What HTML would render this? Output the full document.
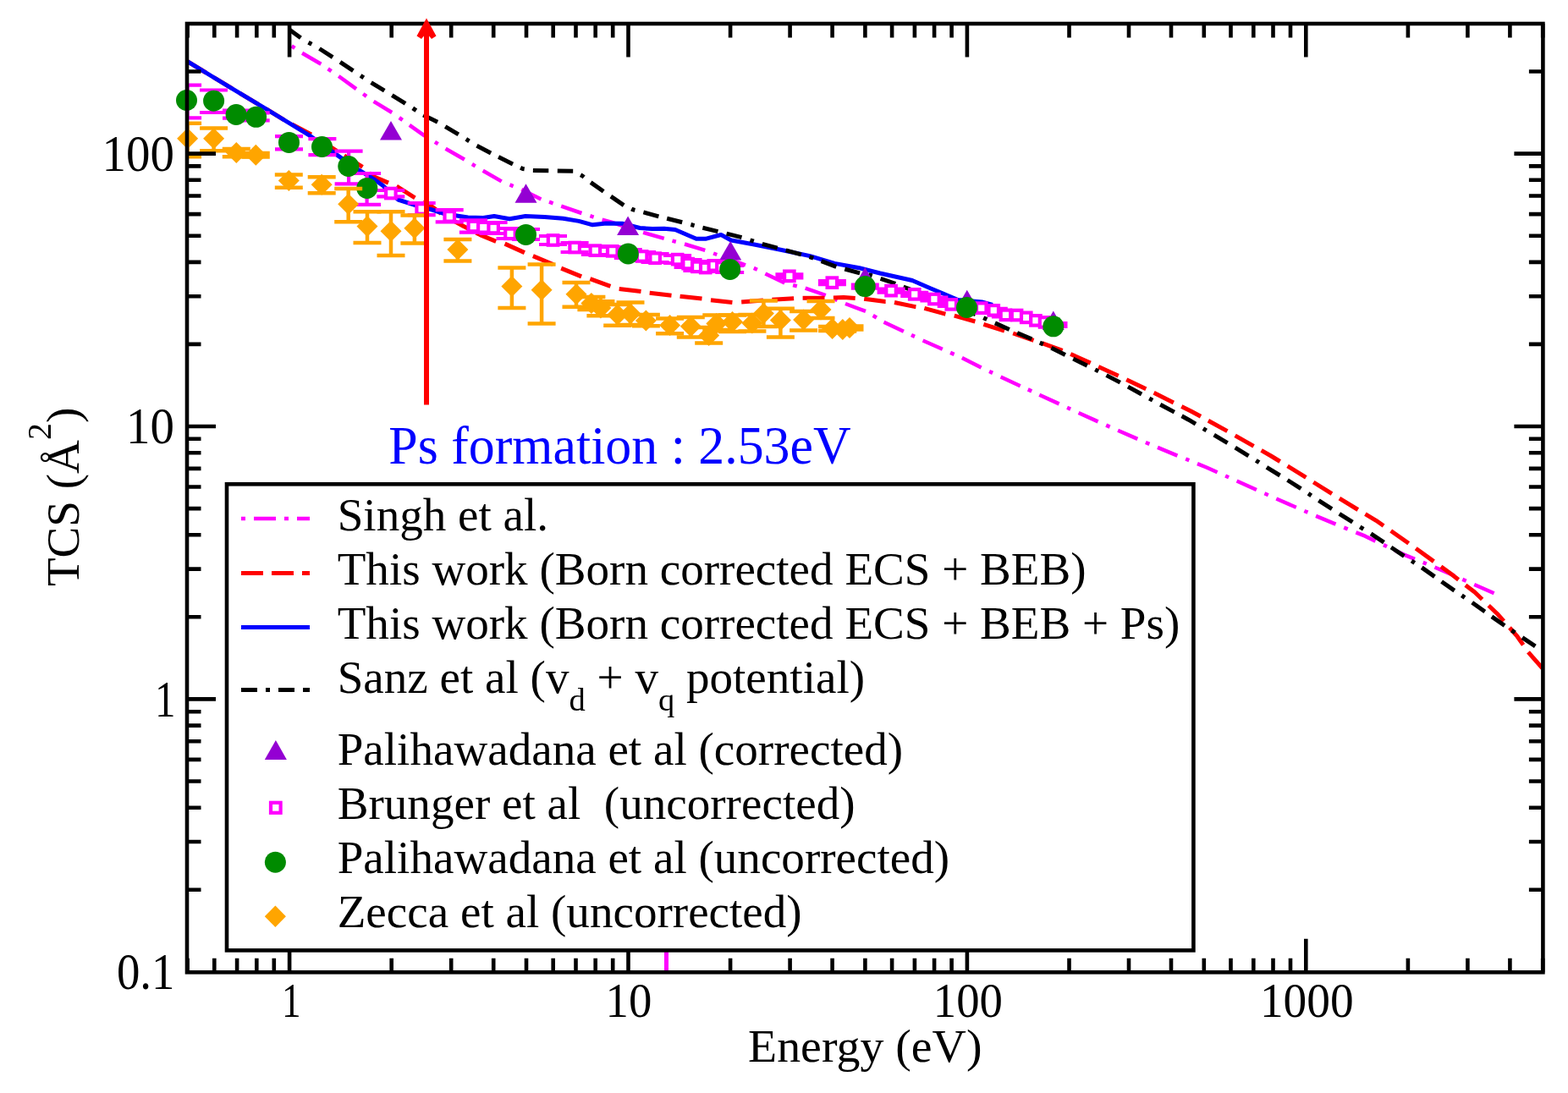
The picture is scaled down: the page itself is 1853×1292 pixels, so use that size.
<!DOCTYPE html>
<html><head><meta charset="utf-8"><title>TCS vs Energy</title><style>html,body{margin:0;padding:0;background:#fff;}svg{display:block;}</style></head>
<body><svg width="1853" height="1292" viewBox="0 0 1853 1292">
<rect width="1853" height="1292" fill="#fff"/>
<defs><clipPath id="pc"><rect x="221.6" y="28" width="1601.6" height="1120.7"/></clipPath></defs>
<g clip-path="url(#pc)" fill="none" stroke-linejoin="round">
<g fill="none" stroke="#ff00ff" stroke-width="4.5" stroke-linejoin="round">
<path d="M344.7 54.3L348.4 56.8"/>
<path d="M357.1 62.7L379.4 75.7"/>
<path d="M387.6 81.3L391.6 84.1"/>
<path d="M400.2 90.0L421.0 105.1"/>
<path d="M429.2 111.0L433.1 113.8"/>
<path d="M441.6 119.9L463.2 133.0"/>
<path d="M471.8 139.1L475.7 141.9"/>
<polyline points="483.9,147.8 501.2,160.1 505.0,162.4"/>
<path d="M513.9 167.9L517.7 170.2"/>
<path d="M526.6 175.7L548.9 188.5"/>
<path d="M557.9 194.0L561.7 196.3"/>
<path d="M570.7 201.8L592.7 214.4"/>
<path d="M602.5 218.4L606.6 220.1"/>
<path d="M616.3 224.1L639.4 235.4"/>
<path d="M649.0 238.7L653.6 240.3"/>
<path d="M663.2 243.7L687.4 252.0"/>
<path d="M697.4 255.2L701.6 256.6"/>
<polyline points="711.6,259.8 722.6,262.7 736.0,267.1"/>
<path d="M746.0 270.4L750.2 271.7"/>
<path d="M760.1 274.9L784.8 281.9"/>
<path d="M794.5 284.6L798.8 285.7"/>
<path d="M809.0 288.5L833.3 295.8"/>
<path d="M843.1 299.5L847.3 301.0"/>
<path d="M857.1 304.6L881.0 313.3"/>
<path d="M890.8 316.9L894.9 318.7"/>
<path d="M904.4 323.4L927.3 334.6"/>
<path d="M937.1 337.1L941.8 338.3"/>
<path d="M951.7 340.6L975.8 349.0"/>
<path d="M985.4 353.1L989.5 354.9"/>
<path d="M999.0 359.0L1023.0 367.9"/>
<path d="M1031.7 373.0L1035.9 375.5"/>
<path d="M1044.5 380.7L1067.9 391.7"/>
<path d="M1077.0 396.0L1081.0 397.9"/>
<path d="M1090.6 402.5L1113.8 412.8"/>
<path d="M1123.1 416.9L1127.6 418.9"/>
<path d="M1136.9 423.0L1159.6 434.4"/>
<path d="M1169.1 439.0L1173.1 440.9"/>
<path d="M1182.6 445.5L1205.7 456.2"/>
<path d="M1214.8 460.4L1219.2 462.4"/>
<path d="M1228.3 466.7L1251.6 477.4"/>
<path d="M1261.1 481.8L1265.1 483.6"/>
<path d="M1274.6 488.0L1297.6 498.4"/>
<path d="M1307.2 502.6L1311.6 504.6"/>
<path d="M1321.1 508.8L1344.3 518.9"/>
<path d="M1353.9 523.0L1358.4 524.9"/>
<path d="M1368.0 528.9L1391.4 538.6"/>
<path d="M1401.2 542.5L1405.3 544.2"/>
<polyline points="1415.0,548.1 1425.8,552.5 1438.6,558.2"/>
<path d="M1448.1 562.5L1452.1 564.3"/>
<path d="M1461.6 568.5L1484.9 579.0"/>
<path d="M1494.4 583.3L1498.8 585.2"/>
<path d="M1508.3 589.5L1531.8 599.8"/>
<path d="M1541.4 604.0L1545.5 605.7"/>
<path d="M1555.1 609.9L1578.5 619.7"/>
<path d="M1588.2 623.6L1592.7 625.4"/>
<polyline points="1602.4,629.3 1613.2,633.7 1625.5,639.6"/>
<path d="M1635.0 644.1L1639.0 646.0"/>
<polyline points="1648.4,650.5 1658.6,655.4 1672.0,660.9"/>
<path d="M1681.7 664.8L1685.8 666.5"/>
<path d="M1695.5 670.5L1719.1 680.8"/>
<path d="M1728.3 684.9L1732.7 686.8"/>
<path d="M1742.2 691.0L1765.6 701.3"/>
</g>
<g fill="none" stroke="#ff0000" stroke-width="5" stroke-linejoin="round">
<path d="M221.6 72.6L243.5 86.0"/>
<path d="M252.4 91.4L274.4 104.7"/>
<path d="M283.3 110.1L305.4 123.3"/>
<path d="M314.3 128.7L335.9 141.8"/>
<polyline points="345.0,146.9 367.4,158.8 367.7,159.0"/>
<path d="M376.6 164.7L398.0 178.3"/>
<path d="M406.8 183.9L428.5 197.3"/>
<polyline points="436.2,204.4 440.0,208.1 459.0,216.1"/>
<path d="M468.7 220.2L490.4 233.8"/>
<polyline points="499.9,238.6 509.0,243.1 521.3,252.6"/>
<polyline points="530.3,257.9 547.0,267.0 553.4,270.3"/>
<polyline points="562.7,275.2 567.4,277.6 586.2,285.4"/>
<path d="M596.6 288.1L619.9 298.6"/>
<polyline points="629.9,302.6 651.8,311.7 653.6,312.6"/>
<path d="M663.2 317.1L687.1 326.9"/>
<path d="M697.4 329.6L721.4 338.4"/>
<path d="M731.7 341.5L757.5 344.4"/>
<path d="M767.7 346.3L793.5 349.2"/>
<path d="M803.6 350.2L829.5 353.1"/>
<path d="M840.0 354.7L865.4 357.5"/>
<path d="M876.2 356.9L901.9 355.1"/>
<path d="M912.4 354.2L938.1 352.7"/>
<path d="M948.6 352.3L974.5 352.3"/>
<polyline points="984.9,351.9 997.0,351.5 1010.7,352.4"/>
<polyline points="1021.2,353.2 1046.2,356.6 1046.6,356.6"/>
<polyline points="1057.0,357.5 1081.6,362.6 1082.4,362.7"/>
<polyline points="1092.4,364.4 1117.0,371.2 1117.4,371.3"/>
<path d="M1127.8 373.1L1152.4 380.0"/>
<path d="M1162.4 383.4L1187.0 391.1"/>
<path d="M1197.2 394.0L1221.5 402.3"/>
<path d="M1231.4 405.7L1255.6 414.3"/>
<path d="M1265.2 418.5L1288.7 429.1"/>
<path d="M1298.1 433.4L1321.7 444.3"/>
<path d="M1331.2 448.7L1354.3 459.7"/>
<path d="M1363.6 464.3L1386.9 475.9"/>
<polyline points="1396.3,480.5 1407.4,486.0 1419.0,492.3"/>
<path d="M1427.9 497.2L1450.4 509.6"/>
<path d="M1459.6 514.8L1481.6 527.3"/>
<polyline points="1490.6,532.4 1502.1,539.0 1512.7,545.5"/>
<path d="M1521.6 550.9L1543.4 564.4"/>
<path d="M1552.2 570.0L1574.0 583.6"/>
<path d="M1582.9 589.1L1604.8 602.5"/>
<polyline points="1613.4,607.7 1626.2,615.3 1635.1,621.5"/>
<path d="M1643.7 627.5L1664.7 642.3"/>
<path d="M1673.2 648.3L1694.4 663.6"/>
<polyline points="1702.9,669.8 1714.3,678.1 1723.6,685.3"/>
<polyline points="1731.9,691.7 1742.5,699.8 1751.6,708.5"/>
<polyline points="1759.2,715.7 1769.1,725.2 1777.1,734.2"/>
<polyline points="1784.0,742.0 1793.0,752.2 1800.1,762.4"/>
<path d="M1806.0 770.9L1822.7 789.9"/>
</g>
<polyline points="221.6,72.6 269.2,101.6 315.0,129.1 367.4,161.2 404.2,187.4 424.4,201.2 443.2,212.7 453.0,219.8 470.4,236.0 492.5,243.1 509.0,247.5 524.2,252.3 541.3,255.2 553.0,257.0 571.1,257.5 584.0,255.5 602.2,258.8 621.0,255.5 643.6,256.5 665.5,258.3 684.1,261.4 700.3,265.8 716.4,263.9 736.2,264.3 756.1,269.5 771.0,270.6 784.9,270.2 797.9,271.5 822.8,282.3 833.7,282.3 852.1,277.5 864.0,284.0 890.0,288.8 922.5,295.3 957.2,302.6 986.3,311.4 1015.5,316.7 1040.0,323.0 1078.1,331.5 1100.0,341.0 1112.7,346.3 1132.1,354.5 1160.3,357.0 1173.0,360.5" stroke="#0000ff" stroke-width="5"/>
<g fill="none" stroke="#000000" stroke-width="5" stroke-linejoin="round">
<path d="M342.0 35.0L355.4 44.8"/>
<path d="M364.5 50.2L368.4 52.3"/>
<path d="M377.5 57.5L393.2 67.6"/>
<path d="M402.0 73.4L417.4 83.6"/>
<path d="M426.1 89.4L429.8 91.8"/>
<path d="M438.6 97.6L454.3 107.1"/>
<path d="M463.3 112.6L479.1 122.3"/>
<path d="M487.8 127.9L491.8 130.6"/>
<path d="M500.2 136.0L517.1 144.3"/>
<path d="M526.2 149.6L541.8 158.9"/>
<path d="M550.8 164.4L554.5 166.8"/>
<path d="M563.5 172.3L580.1 181.0"/>
<path d="M589.1 185.5L606.0 193.9"/>
<polyline points="615.1,198.3 617.7,199.5 619.7,199.8"/>
<path d="M629.9 201.4L648.3 201.7"/>
<path d="M658.8 201.9L677.2 202.2"/>
<polyline points="686.1,206.8 688.2,207.9 690.1,209.4"/>
<path d="M698.1 215.6L713.2 226.2"/>
<path d="M721.9 232.1L737.2 242.6"/>
<polyline points="746.2,246.9 748.0,247.8 750.4,248.4"/>
<path d="M760.4 250.9L778.4 255.8"/>
<path d="M788.2 258.2L806.2 262.7"/>
<path d="M816.4 265.5L820.6 266.6"/>
<path d="M830.4 269.3L848.4 273.6"/>
<path d="M858.6 276.2L876.5 280.7"/>
<path d="M886.5 283.8L890.8 285.2"/>
<path d="M900.8 288.3L918.7 293.2"/>
<path d="M928.7 295.9L946.9 300.8"/>
<path d="M956.6 303.6L961.2 305.1"/>
<path d="M970.6 308.6L988.3 315.3"/>
<path d="M998.3 318.0L1016.1 322.9"/>
<polyline points="1026.4,324.9 1029.6,325.5 1030.7,325.9"/>
<polyline points="1040.6,329.3 1057.4,335.0 1058.2,335.3"/>
<path d="M1067.6 339.1L1085.0 345.6"/>
<path d="M1094.9 349.2L1099.1 350.7"/>
<path d="M1108.9 354.3L1126.2 360.7"/>
<path d="M1135.7 364.4L1152.9 371.6"/>
<path d="M1162.2 375.7L1166.3 377.6"/>
<path d="M1175.9 381.9L1192.8 389.5"/>
<path d="M1202.1 393.5L1219.3 400.8"/>
<path d="M1228.8 405.1L1232.8 406.9"/>
<path d="M1242.4 411.2L1258.9 419.4"/>
<path d="M1268.3 424.1L1284.8 432.3"/>
<path d="M1294.2 436.9L1298.1 438.9"/>
<path d="M1307.5 443.6L1323.8 452.1"/>
<path d="M1333.0 457.1L1349.1 466.0"/>
<path d="M1358.2 471.0L1362.1 473.1"/>
<path d="M1371.2 478.2L1387.8 487.1"/>
<polyline points="1396.6,491.8 1404.7,496.2 1413.0,501.2"/>
<path d="M1421.9 506.6L1425.7 508.8"/>
<path d="M1434.7 514.2L1450.6 523.7"/>
<path d="M1459.7 529.1L1475.5 538.8"/>
<path d="M1484.3 544.3L1488.0 546.7"/>
<path d="M1496.9 552.3L1512.6 562.0"/>
<path d="M1521.5 567.5L1537.4 577.6"/>
<path d="M1546.1 583.4L1549.7 585.8"/>
<path d="M1558.4 591.6L1574.0 601.6"/>
<path d="M1582.8 607.3L1598.4 617.2"/>
<path d="M1607.2 622.8L1611.3 625.3"/>
<path d="M1620.1 630.9L1635.5 641.1"/>
<path d="M1644.0 647.0L1659.4 657.3"/>
<path d="M1668.1 663.0L1671.8 665.4"/>
<path d="M1680.2 670.9L1695.4 681.6"/>
<path d="M1703.6 687.5L1718.8 698.1"/>
<path d="M1727.4 703.9L1731.0 706.4"/>
<path d="M1739.7 712.3L1754.8 723.0"/>
<path d="M1762.9 728.9L1778.1 739.5"/>
<path d="M1786.4 745.1L1790.4 747.8"/>
<path d="M1799.0 753.6L1814.3 763.9"/>
<path d="M1822.9 769.8L1823.2 770.0"/>
</g>
</g>
<polygon points="449.0,165.6 475.0,165.6 462.0,143.1" fill="#9400d3"/>
<polygon points="608.5,239.8 634.5,239.8 621.5,217.3" fill="#9400d3"/>
<polygon points="729.1,278.1 755.1,278.1 742.1,255.6" fill="#9400d3"/>
<polygon points="850.2,307.5 876.2,307.5 863.2,285.0" fill="#9400d3"/>
<polygon points="1009.3,338.5 1035.3,338.5 1022.3,316.0" fill="#9400d3"/>
<polygon points="1129.8,365.3 1155.8,365.3 1142.8,342.8" fill="#9400d3"/>
<polygon points="1231.8,390.1 1257.8,390.1 1244.8,367.6" fill="#9400d3"/>
<g clip-path="url(#pc)" stroke="#ff00ff" stroke-width="4.2" fill="none">
<path d="M205.1 100.7H238.1M205.1 139.3H238.1M221.6 100.7V139.3"/>
<path d="M236.0 106.5H269.0M236.0 133.0H269.0M252.5 106.5V133.0"/>
<path d="M263.0 130.6H296.0M263.0 139.6H296.0M279.5 130.6V139.6"/>
<path d="M285.7 133.4H318.7M285.7 142.3H318.7M302.2 133.4V142.3"/>
<path d="M325.0 161.2H358.0M325.0 176.4H358.0M341.5 161.2V176.4"/>
<path d="M364.4 164.2H397.4M364.4 183.2H397.4M380.9 164.2V183.2"/>
<path d="M395.6 178.6H428.6M395.6 217.3H428.6M412.1 178.6V217.3"/>
<path d="M417.1 205.0H450.1M417.1 241.8H450.1M433.6 205.0V241.8"/>
<path d="M445.3 225.0H478.3M445.3 232.3H478.3M461.8 225.0V232.3"/>
<path d="M481.7 240.0H514.7M481.7 254.1H514.7M498.2 240.0V254.1"/>
<path d="M514.7 248.2H547.7M514.7 262.3H547.7M531.2 248.2V262.3"/>
<path d="M542.9 260.4H575.9M542.9 274.7H575.9M559.4 260.4V274.7"/>
<path d="M566.6 263.0H599.6M566.6 276.0H599.6M583.1 263.0V276.0"/>
<path d="M586.5 270.0H619.5M586.5 282.0H619.5M603.0 270.0V282.0"/>
<path d="M605.0 271.0H638.0M605.0 283.0H638.0M621.5 271.0V283.0"/>
<path d="M637.0 279.0H670.0M637.0 289.0H670.0M653.5 279.0V289.0"/>
<path d="M662.6 287.0H695.6M662.6 298.0H695.6M679.1 287.0V298.0"/>
<path d="M686.9 291.0H719.9M686.9 301.0H719.9M703.4 291.0V301.0"/>
<path d="M707.3 292.0H740.3M707.3 302.0H740.3M723.8 292.0V302.0"/>
<path d="M725.8 295.0H758.8M725.8 305.0H758.8M742.3 295.0V305.0"/>
<path d="M742.1 298.0H775.1M742.1 308.0H775.1M758.6 298.0V308.0"/>
<path d="M757.6 300.0H790.6M757.6 310.0H790.6M774.1 300.0V310.0"/>
<path d="M784.1 302.0H817.1M784.1 311.0H817.1M800.6 302.0V311.0"/>
<path d="M796.6 307.0H829.6M796.6 316.0H829.6M813.1 307.0V316.0"/>
<path d="M807.4 311.0H840.4M807.4 320.0H840.4M823.9 311.0V320.0"/>
<path d="M817.2 312.0H850.2M817.2 321.0H850.2M833.7 312.0V321.0"/>
<path d="M826.9 309.0H859.9M826.9 318.0H859.9M843.4 309.0V318.0"/>
<path d="M836.5 312.0H869.5M836.5 320.0H869.5M853.0 312.0V320.0"/>
<path d="M846.2 314.0H879.2M846.2 322.0H879.2M862.7 314.0V322.0"/>
<path d="M916.4 324.4H949.4M916.4 328.4H949.4M932.9 324.4V328.4"/>
<path d="M966.9 332.2H999.9M966.9 336.2H999.9M983.4 332.2V336.2"/>
<path d="M1005.8 336.6H1038.8M1005.8 340.6H1038.8M1022.3 336.6V340.6"/>
<path d="M1036.6 341.6H1069.6M1036.6 345.6H1069.6M1053.1 341.6V345.6"/>
<path d="M1064.2 345.9H1097.2M1064.2 349.9H1097.2M1080.7 345.9V349.9"/>
<path d="M1087.4 351.5H1120.4M1087.4 355.5H1120.4M1103.9 351.5V355.5"/>
<path d="M1107.8 357.8H1140.8M1107.8 361.8H1140.8M1124.3 357.8V361.8"/>
<path d="M1126.0 361.0H1159.0M1126.0 365.0H1159.0M1142.5 361.0V365.0"/>
<path d="M1143.3 362.2H1176.3M1143.3 366.2H1176.3M1159.8 362.2V366.2"/>
<path d="M1157.8 364.8H1190.8M1157.8 368.8H1190.8M1174.3 364.8V368.8"/>
<path d="M1171.9 370.3H1204.9M1171.9 374.3H1204.9M1188.4 370.3V374.3"/>
<path d="M1185.1 370.5H1218.1M1185.1 374.5H1218.1M1201.6 370.5V374.5"/>
<path d="M1196.2 373.4H1229.2M1196.2 377.4H1229.2M1212.7 373.4V377.4"/>
<path d="M1207.4 376.8H1240.4M1207.4 380.8H1240.4M1223.9 376.8V380.8"/>
<path d="M1218.0 379.0H1251.0M1218.0 383.0H1251.0M1234.5 379.0V383.0"/>
<path d="M1228.5 382.0H1261.5M1228.5 386.0H1261.5M1245.0 382.0V386.0"/>
</g><g stroke="#ff00ff" stroke-width="4.2" fill="#fff">
<rect x="215.8" y="114.2" width="11.5" height="11.5"/>
<rect x="246.8" y="114.2" width="11.5" height="11.5"/>
<rect x="273.8" y="129.2" width="11.5" height="11.5"/>
<rect x="296.4" y="132.2" width="11.5" height="11.5"/>
<rect x="335.8" y="162.9" width="11.5" height="11.5"/>
<rect x="375.1" y="167.9" width="11.5" height="11.5"/>
<rect x="406.4" y="191.8" width="11.5" height="11.5"/>
<rect x="427.9" y="217.7" width="11.5" height="11.5"/>
<rect x="456.1" y="222.8" width="11.5" height="11.5"/>
<rect x="492.4" y="241.2" width="11.5" height="11.5"/>
<rect x="525.5" y="250.1" width="11.5" height="11.5"/>
<rect x="553.6" y="261.8" width="11.5" height="11.5"/>
<rect x="577.4" y="263.8" width="11.5" height="11.5"/>
<rect x="597.2" y="270.6" width="11.5" height="11.5"/>
<rect x="615.8" y="271.2" width="11.5" height="11.5"/>
<rect x="647.8" y="278.2" width="11.5" height="11.5"/>
<rect x="673.4" y="286.8" width="11.5" height="11.5"/>
<rect x="697.6" y="290.4" width="11.5" height="11.5"/>
<rect x="718.0" y="291.1" width="11.5" height="11.5"/>
<rect x="736.5" y="294.2" width="11.5" height="11.5"/>
<rect x="752.9" y="297.2" width="11.5" height="11.5"/>
<rect x="768.4" y="299.4" width="11.5" height="11.5"/>
<rect x="794.9" y="300.9" width="11.5" height="11.5"/>
<rect x="807.4" y="305.9" width="11.5" height="11.5"/>
<rect x="818.1" y="309.6" width="11.5" height="11.5"/>
<rect x="828.0" y="310.8" width="11.5" height="11.5"/>
<rect x="837.6" y="308.1" width="11.5" height="11.5"/>
<rect x="847.2" y="310.2" width="11.5" height="11.5"/>
<rect x="857.0" y="312.2" width="11.5" height="11.5"/>
<rect x="927.1" y="320.6" width="11.5" height="11.5"/>
<rect x="977.6" y="328.4" width="11.5" height="11.5"/>
<rect x="1016.5" y="332.9" width="11.5" height="11.5"/>
<rect x="1047.3" y="337.9" width="11.5" height="11.5"/>
<rect x="1075.0" y="342.1" width="11.5" height="11.5"/>
<rect x="1098.2" y="347.8" width="11.5" height="11.5"/>
<rect x="1118.5" y="354.1" width="11.5" height="11.5"/>
<rect x="1136.8" y="357.2" width="11.5" height="11.5"/>
<rect x="1154.0" y="358.4" width="11.5" height="11.5"/>
<rect x="1168.5" y="361.1" width="11.5" height="11.5"/>
<rect x="1182.7" y="366.6" width="11.5" height="11.5"/>
<rect x="1195.8" y="366.8" width="11.5" height="11.5"/>
<rect x="1207.0" y="369.6" width="11.5" height="11.5"/>
<rect x="1218.2" y="373.1" width="11.5" height="11.5"/>
<rect x="1228.8" y="375.2" width="11.5" height="11.5"/>
<rect x="1239.2" y="378.2" width="11.5" height="11.5"/>
</g><g fill="#008b00">
<circle cx="220.5" cy="118.5" r="12.5"/>
<circle cx="252.6" cy="119.2" r="12.5"/>
<circle cx="279.1" cy="135.5" r="12.5"/>
<circle cx="302.6" cy="138.3" r="12.5"/>
<circle cx="341.5" cy="168.4" r="12.5"/>
<circle cx="380.5" cy="173.5" r="12.5"/>
<circle cx="411.8" cy="196.5" r="12.5"/>
<circle cx="433.8" cy="222.4" r="12.5"/>
<circle cx="621.5" cy="277.4" r="12.5"/>
<circle cx="742.3" cy="299.9" r="12.5"/>
<circle cx="862.7" cy="318.4" r="12.5"/>
<circle cx="1022.3" cy="338.6" r="12.5"/>
<circle cx="1142.5" cy="363.5" r="12.5"/>
<circle cx="1244.8" cy="385.8" r="12.5"/>
</g><g clip-path="url(#pc)" stroke="#ffa500" stroke-width="4.5" fill="none">
<path d="M205.1 145.8H238.1M205.1 185.3H238.1M221.6 145.8V185.3"/>
<path d="M236.1 151.4H269.1M236.1 178.2H269.1M252.6 151.4V178.2"/>
<path d="M262.8 176H295.8M262.8 185.3H295.8M279.3 176V185.3"/>
<path d="M285.8 181H318.8M285.8 185.5H318.8M302.3 181V185.5"/>
<path d="M324.8 206.5H357.8M324.8 221.7H357.8M341.3 206.5V221.7"/>
<path d="M363.7 209.3H396.7M363.7 228.3H396.7M380.2 209.3V228.3"/>
<path d="M395.2 222.9H428.2M395.2 262.3H428.2M411.7 222.9V262.3"/>
<path d="M417.5 250.2H450.5M417.5 287.1H450.5M434 250.2V287.1"/>
<path d="M445.5 250.2H478.5M445.5 302H478.5M462 250.2V302"/>
<path d="M473.4 254.5H506.4M473.4 287.6H506.4M489.9 254.5V287.6"/>
<path d="M524.4 283H557.4M524.4 308.5H557.4M540.9 283V308.5"/>
<path d="M588.4 316.5H621.4M588.4 364H621.4M604.9 316.5V364"/>
<path d="M623.6 312.4H656.6M623.6 382.4H656.6M640.1 312.4V382.4"/>
<path d="M664.5 334H697.5M664.5 362.8H697.5M681 334V362.8"/>
<path d="M682.4 351H715.4M682.4 366H715.4M698.9 351V366"/>
<path d="M693.4 356.3H726.4M693.4 373.3H726.4M709.9 356.3V373.3"/>
<path d="M713.2 360H746.2M713.2 384.7H746.2M729.7 360V384.7"/>
<path d="M728.5 357.5H761.5M728.5 384H761.5M745 357.5V384"/>
<path d="M746.9 372H779.9M746.9 385.2H779.9M763.4 372V385.2"/>
<path d="M775.1 376.5H808.1M775.1 394.2H808.1M791.6 376.5V394.2"/>
<path d="M799.8 375H832.8M799.8 398.5H832.8M816.3 375V398.5"/>
<path d="M821.2 387H854.2M821.2 405.6H854.2M837.7 387V405.6"/>
<path d="M830.3 372.5H863.3M830.3 390H863.3M846.8 372.5V390"/>
<path d="M849.0 372.5H882.0M849.0 392H882.0M865.5 372.5V392"/>
<path d="M872.4 372H905.4M872.4 391.4H905.4M888.9 372V391.4"/>
<path d="M885.9 355.5H918.9M885.9 386H918.9M902.4 355.5V386"/>
<path d="M905.9 364.8H938.9M905.9 398.4H938.9M922.4 364.8V398.4"/>
<path d="M933.1 368H966.1M933.1 390.4H966.1M949.6 368V390.4"/>
<path d="M953.5 356H986.5M953.5 376H986.5M970 356V376"/>
<path d="M967.1 386H1000.1M967.1 391H1000.1M983.6 386V391"/>
<path d="M979.3 387H1012.3M979.3 391.5H1012.3M995.8 387V391.5"/>
<path d="M987.5 385.5H1020.5M987.5 389.5H1020.5M1004 385.5V389.5"/>
</g><g fill="#ffa500">
<polygon points="221.6,151.3 234.1,163.8 221.6,176.3 209.1,163.8"/>
<polygon points="252.6,151.3 265.1,163.8 252.6,176.3 240.1,163.8"/>
<polygon points="279.3,168.0 291.8,180.5 279.3,193.0 266.8,180.5"/>
<polygon points="302.3,170.7 314.8,183.2 302.3,195.7 289.8,183.2"/>
<polygon points="341.3,201.0 353.8,213.5 341.3,226.0 328.8,213.5"/>
<polygon points="380.2,205.7 392.7,218.2 380.2,230.7 367.7,218.2"/>
<polygon points="411.7,228.7 424.2,241.2 411.7,253.7 399.2,241.2"/>
<polygon points="434.0,254.9 446.5,267.4 434.0,279.9 421.5,267.4"/>
<polygon points="462.0,260.7 474.5,273.2 462.0,285.7 449.5,273.2"/>
<polygon points="489.9,257.3 502.4,269.8 489.9,282.3 477.4,269.8"/>
<polygon points="540.9,282.6 553.4,295.1 540.9,307.6 528.4,295.1"/>
<polygon points="604.9,326.0 617.4,338.5 604.9,351.0 592.4,338.5"/>
<polygon points="640.1,330.3 652.6,342.8 640.1,355.3 627.6,342.8"/>
<polygon points="681.0,335.3 693.5,347.8 681.0,360.3 668.5,347.8"/>
<polygon points="698.9,346.0 711.4,358.5 698.9,371.0 686.4,358.5"/>
<polygon points="709.9,351.4 722.4,363.9 709.9,376.4 697.4,363.9"/>
<polygon points="729.7,359.5 742.2,372.0 729.7,384.5 717.2,372.0"/>
<polygon points="745.0,358.2 757.5,370.7 745.0,383.2 732.5,370.7"/>
<polygon points="763.4,366.5 775.9,379.0 763.4,391.5 750.9,379.0"/>
<polygon points="791.6,372.0 804.1,384.5 791.6,397.0 779.1,384.5"/>
<polygon points="816.3,373.2 828.8,385.7 816.3,398.2 803.8,385.7"/>
<polygon points="837.7,383.9 850.2,396.4 837.7,408.9 825.2,396.4"/>
<polygon points="846.8,369.9 859.3,382.4 846.8,394.9 834.3,382.4"/>
<polygon points="865.5,368.0 878.0,380.5 865.5,393.0 853.0,380.5"/>
<polygon points="888.9,369.5 901.4,382.0 888.9,394.5 876.4,382.0"/>
<polygon points="902.4,358.0 914.9,370.5 902.4,383.0 889.9,370.5"/>
<polygon points="922.4,366.0 934.9,378.5 922.4,391.0 909.9,378.5"/>
<polygon points="949.6,365.5 962.1,378.0 949.6,390.5 937.1,378.0"/>
<polygon points="970.0,353.5 982.5,366.0 970.0,378.5 957.5,366.0"/>
<polygon points="983.6,375.9 996.1,388.4 983.6,400.9 971.1,388.4"/>
<polygon points="995.8,376.9 1008.3,389.4 995.8,401.9 983.3,389.4"/>
<polygon points="1004.0,375.0 1016.5,387.5 1004.0,400.0 991.5,387.5"/>
</g>
<line x1="787.5" y1="1100" x2="787.5" y2="1149.3" stroke="#ff00ff" stroke-width="5"/>
<path d="M221.6 1149.3V1132.8M221.6 28.0V44.5" stroke="#000" stroke-width="4.6"/>
<path d="M253.3 1149.3V1132.8M253.3 28.0V44.5" stroke="#000" stroke-width="4.6"/>
<path d="M280.1 1149.3V1132.8M280.1 28.0V44.5" stroke="#000" stroke-width="4.6"/>
<path d="M303.3 1149.3V1132.8M303.3 28.0V44.5" stroke="#000" stroke-width="4.6"/>
<path d="M323.8 1149.3V1132.8M323.8 28.0V44.5" stroke="#000" stroke-width="4.6"/>
<path d="M342.1 1149.3V1109.8M342.1 28.0V67.5" stroke="#000" stroke-width="4.6"/>
<path d="M462.7 1149.3V1132.8M462.7 28.0V44.5" stroke="#000" stroke-width="4.6"/>
<path d="M533.2 1149.3V1132.8M533.2 28.0V44.5" stroke="#000" stroke-width="4.6"/>
<path d="M583.2 1149.3V1132.8M583.2 28.0V44.5" stroke="#000" stroke-width="4.6"/>
<path d="M622.0 1149.3V1132.8M622.0 28.0V44.5" stroke="#000" stroke-width="4.6"/>
<path d="M653.7 1149.3V1132.8M653.7 28.0V44.5" stroke="#000" stroke-width="4.6"/>
<path d="M680.5 1149.3V1132.8M680.5 28.0V44.5" stroke="#000" stroke-width="4.6"/>
<path d="M703.7 1149.3V1132.8M703.7 28.0V44.5" stroke="#000" stroke-width="4.6"/>
<path d="M724.2 1149.3V1132.8M724.2 28.0V44.5" stroke="#000" stroke-width="4.6"/>
<path d="M742.5 1149.3V1109.8M742.5 28.0V67.5" stroke="#000" stroke-width="4.6"/>
<path d="M863.1 1149.3V1132.8M863.1 28.0V44.5" stroke="#000" stroke-width="4.6"/>
<path d="M933.6 1149.3V1132.8M933.6 28.0V44.5" stroke="#000" stroke-width="4.6"/>
<path d="M983.6 1149.3V1132.8M983.6 28.0V44.5" stroke="#000" stroke-width="4.6"/>
<path d="M1022.4 1149.3V1132.8M1022.4 28.0V44.5" stroke="#000" stroke-width="4.6"/>
<path d="M1054.1 1149.3V1132.8M1054.1 28.0V44.5" stroke="#000" stroke-width="4.6"/>
<path d="M1080.9 1149.3V1132.8M1080.9 28.0V44.5" stroke="#000" stroke-width="4.6"/>
<path d="M1104.1 1149.3V1132.8M1104.1 28.0V44.5" stroke="#000" stroke-width="4.6"/>
<path d="M1124.6 1149.3V1132.8M1124.6 28.0V44.5" stroke="#000" stroke-width="4.6"/>
<path d="M1142.9 1149.3V1109.8M1142.9 28.0V67.5" stroke="#000" stroke-width="4.6"/>
<path d="M1263.5 1149.3V1132.8M1263.5 28.0V44.5" stroke="#000" stroke-width="4.6"/>
<path d="M1334.0 1149.3V1132.8M1334.0 28.0V44.5" stroke="#000" stroke-width="4.6"/>
<path d="M1384.0 1149.3V1132.8M1384.0 28.0V44.5" stroke="#000" stroke-width="4.6"/>
<path d="M1422.8 1149.3V1132.8M1422.8 28.0V44.5" stroke="#000" stroke-width="4.6"/>
<path d="M1454.5 1149.3V1132.8M1454.5 28.0V44.5" stroke="#000" stroke-width="4.6"/>
<path d="M1481.3 1149.3V1132.8M1481.3 28.0V44.5" stroke="#000" stroke-width="4.6"/>
<path d="M1504.5 1149.3V1132.8M1504.5 28.0V44.5" stroke="#000" stroke-width="4.6"/>
<path d="M1525.0 1149.3V1132.8M1525.0 28.0V44.5" stroke="#000" stroke-width="4.6"/>
<path d="M1543.3 1149.3V1109.8M1543.3 28.0V67.5" stroke="#000" stroke-width="4.6"/>
<path d="M1663.9 1149.3V1132.8M1663.9 28.0V44.5" stroke="#000" stroke-width="4.6"/>
<path d="M1734.4 1149.3V1132.8M1734.4 28.0V44.5" stroke="#000" stroke-width="4.6"/>
<path d="M1784.4 1149.3V1132.8M1784.4 28.0V44.5" stroke="#000" stroke-width="4.6"/>
<path d="M1823.2 1149.3V1132.8M1823.2 28.0V44.5" stroke="#000" stroke-width="4.6"/>
<path d="M221.0 1051.7H237.5M1823.4 1051.7H1806.9" stroke="#000" stroke-width="4.6"/>
<path d="M221.0 995.0H237.5M1823.4 995.0H1806.9" stroke="#000" stroke-width="4.6"/>
<path d="M221.0 954.7H237.5M1823.4 954.7H1806.9" stroke="#000" stroke-width="4.6"/>
<path d="M221.0 923.5H237.5M1823.4 923.5H1806.9" stroke="#000" stroke-width="4.6"/>
<path d="M221.0 897.9H237.5M1823.4 897.9H1806.9" stroke="#000" stroke-width="4.6"/>
<path d="M221.0 876.3H237.5M1823.4 876.3H1806.9" stroke="#000" stroke-width="4.6"/>
<path d="M221.0 857.6H237.5M1823.4 857.6H1806.9" stroke="#000" stroke-width="4.6"/>
<path d="M221.0 841.2H237.5M1823.4 841.2H1806.9" stroke="#000" stroke-width="4.6"/>
<path d="M221.0 826.4H255.0M1823.4 826.4H1789.4" stroke="#000" stroke-width="4.6"/>
<path d="M221.0 729.3H237.5M1823.4 729.3H1806.9" stroke="#000" stroke-width="4.6"/>
<path d="M221.0 672.6H237.5M1823.4 672.6H1806.9" stroke="#000" stroke-width="4.6"/>
<path d="M221.0 632.3H237.5M1823.4 632.3H1806.9" stroke="#000" stroke-width="4.6"/>
<path d="M221.0 601.1H237.5M1823.4 601.1H1806.9" stroke="#000" stroke-width="4.6"/>
<path d="M221.0 575.5H237.5M1823.4 575.5H1806.9" stroke="#000" stroke-width="4.6"/>
<path d="M221.0 553.9H237.5M1823.4 553.9H1806.9" stroke="#000" stroke-width="4.6"/>
<path d="M221.0 535.2H237.5M1823.4 535.2H1806.9" stroke="#000" stroke-width="4.6"/>
<path d="M221.0 518.8H237.5M1823.4 518.8H1806.9" stroke="#000" stroke-width="4.6"/>
<path d="M221.0 504.0H255.0M1823.4 504.0H1789.4" stroke="#000" stroke-width="4.6"/>
<path d="M221.0 406.9H237.5M1823.4 406.9H1806.9" stroke="#000" stroke-width="4.6"/>
<path d="M221.0 350.2H237.5M1823.4 350.2H1806.9" stroke="#000" stroke-width="4.6"/>
<path d="M221.0 309.9H237.5M1823.4 309.9H1806.9" stroke="#000" stroke-width="4.6"/>
<path d="M221.0 278.7H237.5M1823.4 278.7H1806.9" stroke="#000" stroke-width="4.6"/>
<path d="M221.0 253.1H237.5M1823.4 253.1H1806.9" stroke="#000" stroke-width="4.6"/>
<path d="M221.0 231.5H237.5M1823.4 231.5H1806.9" stroke="#000" stroke-width="4.6"/>
<path d="M221.0 212.8H237.5M1823.4 212.8H1806.9" stroke="#000" stroke-width="4.6"/>
<path d="M221.0 196.4H237.5M1823.4 196.4H1806.9" stroke="#000" stroke-width="4.6"/>
<path d="M221.0 181.6H255.0M1823.4 181.6H1789.4" stroke="#000" stroke-width="4.6"/>
<path d="M221.0 84.5H237.5M1823.4 84.5H1806.9" stroke="#000" stroke-width="4.6"/>
<rect x="221.0" y="28.0" width="1602.4" height="1121.3" fill="none" stroke="#000" stroke-width="4.6"/>
<text transform="translate(344.4,1202.3) scale(0.8,1)" font-family="'Liberation Serif', serif" font-size="56.5" text-anchor="middle">1</text>
<text transform="translate(743.0,1202.3) scale(0.97,1)" font-family="'Liberation Serif', serif" font-size="56.5" text-anchor="middle">10</text>
<text transform="translate(1143.9,1202.3) scale(0.97,1)" font-family="'Liberation Serif', serif" font-size="56.5" text-anchor="middle">100</text>
<text transform="translate(1544.3,1202.3) scale(0.98,1)" font-family="'Liberation Serif', serif" font-size="56.5" text-anchor="middle">1000</text>
<text transform="translate(206.5,1169.1) scale(0.895,1)" font-family="'Liberation Serif', serif" font-size="61.3" text-anchor="end">0.1</text>
<text transform="translate(207.5,846.7) scale(0.8,1)" font-family="'Liberation Serif', serif" font-size="61.3" text-anchor="end">1</text>
<text transform="translate(206,524.3) scale(0.93,1)" font-family="'Liberation Serif', serif" font-size="61.3" text-anchor="end">10</text>
<text transform="translate(206,201.9) scale(0.93,1)" font-family="'Liberation Serif', serif" font-size="61.3" text-anchor="end">100</text>
<text transform="translate(1022.3,1255.3) scale(1.019,1)" font-family="'Liberation Serif', serif" font-size="54.8" text-anchor="middle">Energy (eV)</text>
<text transform="translate(93.3,587.4) rotate(-90)" font-family="'Liberation Serif', serif" font-size="55.1" text-anchor="middle">TCS (&#197;<tspan font-size="40" dy="-33">2</tspan><tspan dy="33">)</tspan></text>
<rect x="268" y="572.3" width="1142.4" height="551.1000000000001" fill="#fff" stroke="#000" stroke-width="4.6"/>
<line x1="285" y1="613" x2="366" y2="613" stroke="#ff00ff" stroke-width="4.5" stroke-dasharray="5 10 26 10"/>
<line x1="285" y1="677.5" x2="366" y2="677.5" stroke="#ff0000" stroke-width="5" stroke-dasharray="26 10"/>
<line x1="285" y1="741.5" x2="366" y2="741.5" stroke="#0000ff" stroke-width="5"/>
<line x1="285" y1="815.4" x2="366" y2="815.4" stroke="#000000" stroke-width="5" stroke-dasharray="19 10 5 10 19 10"/>
<polygon points="312.8,898 338.9,898 325.9,875.1" fill="#9400d3"/>
<rect x="320" y="948.8" width="11.6" height="12" fill="none" stroke="#ff00ff" stroke-width="4.2"/>
<circle cx="325.4" cy="1019.2" r="12.5" fill="#008b00"/>
<polygon points="325.4,1070.4 337.9,1083.3 325.4,1096.1 312.8,1083.3" fill="#ffa500"/>
<text x="398.7" y="626.8" font-family="'Liberation Serif', serif" font-size="55.1" fill="#000">Singh et al.</text>
<text x="398.7" y="690.8" font-family="'Liberation Serif', serif" font-size="55.1" fill="#000">This work (Born corrected ECS + BEB)</text>
<text x="398.7" y="755" font-family="'Liberation Serif', serif" font-size="55.1" fill="#000">This work (Born corrected ECS + BEB + Ps)</text>
<text x="398.7" y="819.4" font-family="'Liberation Serif', serif" font-size="55.1" fill="#000">Sanz et al (v<tspan font-size="38.5" dy="21">d</tspan><tspan dy="-21"> + v</tspan><tspan font-size="38.5" dy="21">q</tspan><tspan dy="-21"> potential)</tspan></text>
<text x="398.7" y="904" font-family="'Liberation Serif', serif" font-size="55.1" fill="#000">Palihawadana et al (corrected)</text>
<text x="398.7" y="967.9" font-family="'Liberation Serif', serif" font-size="55.1" fill="#000">Brunger et al&#160; (uncorrected)</text>
<text x="398.7" y="1032.4" font-family="'Liberation Serif', serif" font-size="55.1" fill="#000">Palihawadana et al (uncorrected)</text>
<text x="398.7" y="1096.3" font-family="'Liberation Serif', serif" font-size="55.1" fill="#000">Zecca et al (uncorrected)</text>
<text transform="translate(459.3,548) scale(0.99,1)" font-family="'Liberation Serif', serif" font-size="62.5" fill="#0000ff">Ps formation : 2.53eV</text>
<line x1="504" y1="478.5" x2="504" y2="40" stroke="#ff0000" stroke-width="6"/>
<polygon points="504,21.5 515.5,42.5 510,46 507,42.5 501,42.5 498,46 492.5,42.5" fill="#ff0000"/>
</svg></body></html>
